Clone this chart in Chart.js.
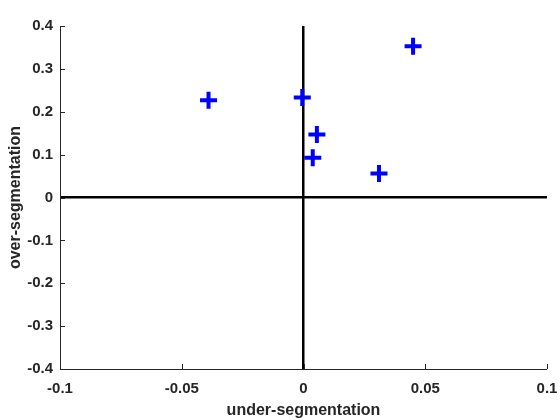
<!DOCTYPE html>
<html>
<head>
<meta charset="utf-8">
<script src="https://cdn.jsdelivr.net/npm/chart.js@4/dist/chart.umd.min.js"></script>
<style>
  html, body { margin: 0; padding: 0; background: #fff; }
  #wrap { width: 560px; height: 420px; }
</style>
</head>
<body>
<div id="wrap"><canvas id="myChart"></canvas></div>
<script>
// points
const underSeg = [0.045, -0.039, -0.0005, 0.0055, 0.0038, 0.031];
const overSeg = [0.353, 0.227, 0.233, 0.147, 0.093, 0.056];

const xTicks = [-0.1, -0.05, 0, 0.05, 0.1];
const yTicks = [-0.4, -0.3, -0.2, -0.1, 0, 0.1, 0.2, 0.3, 0.4];

const tickFont = { family: 'Liberation Sans, Arial, sans-serif', size: 15, weight: 'bold' };
const labelFont = { family: 'Liberation Sans, Arial, sans-serif', size: 16, weight: 'bold' };

// small tick marks pointing into the plot, like matlab
const innerTicks = {
    id: 'innerTicks',
    afterDraw(chart) {
        const ctx = chart.ctx;
        const a = chart.chartArea;
        const xs = chart.scales.x, ys = chart.scales.y;
        ctx.save();
        ctx.strokeStyle = '#262626';
        ctx.lineWidth = 1;
        ctx.beginPath();
        xTicks.forEach(v => {
            const px = Math.round(xs.getPixelForValue(v)) + 0.5;
            ctx.moveTo(px, a.bottom);
            ctx.lineTo(px, a.bottom - 5);
        });
        yTicks.forEach(v => {
            const py = Math.round(ys.getPixelForValue(v)) + 0.5;
            ctx.moveTo(a.left, py);
            ctx.lineTo(a.left + 5, py);
        });
        ctx.stroke();
        ctx.restore();
    }
};

const zeroGrid = {
    display: true,
    drawTicks: false,
    color: c => (c.tick && c.tick.value === 0) ? '#000' : 'rgba(0,0,0,0)',
    lineWidth: c => (c.tick && c.tick.value === 0) ? 2.5 : 0
};

new Chart(document.getElementById('myChart').getContext('2d'), {
    type: 'scatter',
    data: {
        datasets: [{
            data: underSeg.map((x, i) => ({ x: x, y: overSeg[i] })),
            pointStyle: 'cross',
            pointRadius: 8.5,
            pointHoverRadius: 8.5,
            borderWidth: 4,
            pointBorderWidth: 4,
            borderColor: '#0000ff',
            backgroundColor: '#0000ff'
        }]
    },
    options: {
        responsive: true,
        maintainAspectRatio: false,
        animation: false,
        layout: { padding: { top: 26, right: 13, left: 0, bottom: 0 } },
        plugins: {
            legend: { display: false },
            tooltip: { enabled: false }
        },
        scales: {
            x: {
                type: 'linear',
                min: -0.1,
                max: 0.1,
                afterBuildTicks: s => { s.ticks = xTicks.map(v => ({ value: v })); },
                afterFit: s => { s.height = 51; s.paddingLeft = 0; s.paddingRight = 0; },
                ticks: {
                    color: '#262626',
                    font: tickFont,
                    padding: 11,
                    maxRotation: 0,
                    callback: v => String(v)
                },
                grid: zeroGrid,
                border: { display: true, color: '#262626', width: 1 },
                title: {
                    display: true,
                    text: 'under-segmentation',
                    color: '#262626',
                    font: labelFont,
                    padding: { top: 2, bottom: 0 }
                }
            },
            y: {
                type: 'linear',
                min: -0.4,
                max: 0.4,
                afterBuildTicks: s => { s.ticks = yTicks.map(v => ({ value: v })); },
                afterFit: s => { s.width = 60; s.paddingTop = 0; s.paddingBottom = 0; },
                ticks: {
                    color: '#262626',
                    font: tickFont,
                    padding: 7,
                    callback: v => String(v)
                },
                grid: zeroGrid,
                border: { display: true, color: '#262626', width: 1 },
                title: {
                    display: true,
                    text: 'over-segmentation',
                    color: '#262626',
                    font: labelFont,
                    padding: { top: 6, bottom: 0 }
                }
            }
        }
    },
    plugins: [innerTicks]
});
</script>
</body>
</html>
